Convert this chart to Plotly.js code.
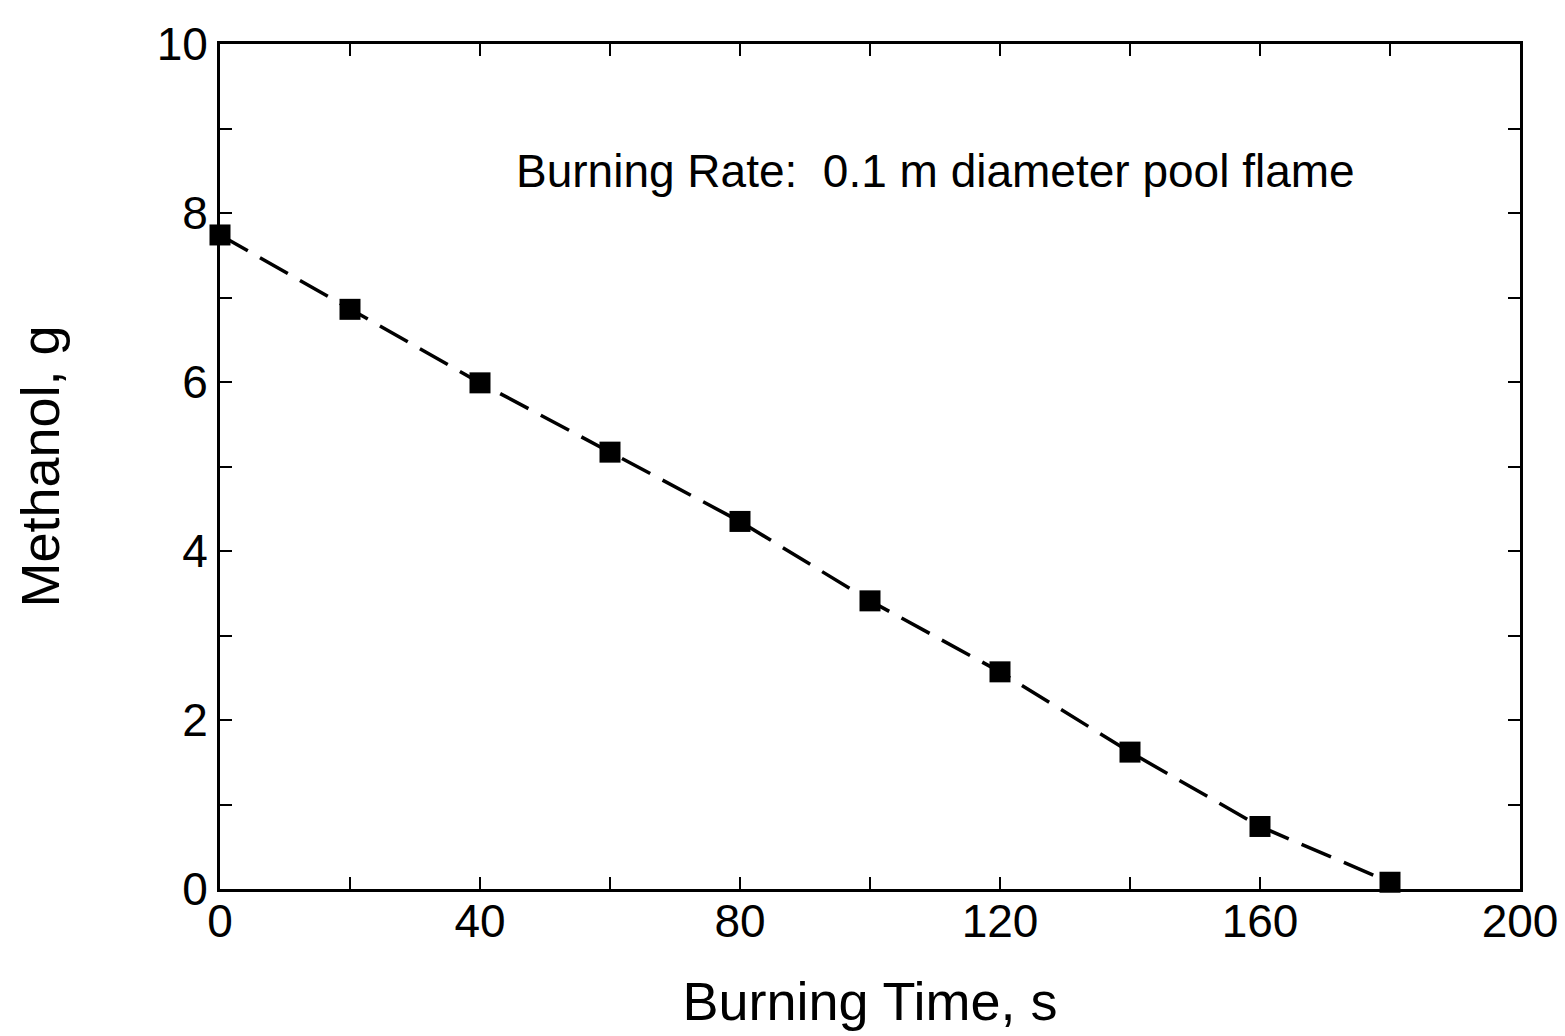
<!DOCTYPE html>
<html>
<head>
<meta charset="utf-8">
<script src="https://cdn.plot.ly/plotly-3.0.1.min.js"></script>
<style>html,body{margin:0;padding:0;background:#fff;}#chart{width:1565px;height:1036px;}</style>
</head>
<body>
<div id="chart"></div>
<script>
// Data
const burningTime = [0, 20, 40, 60, 80, 100, 120, 140, 160, 180];
const methanolMass = [7.74, 6.86, 5.99, 5.17, 4.35, 3.41, 2.57, 1.62, 0.74, 0.08];

const xTickVals = [0, 20, 40, 60, 80, 100, 120, 140, 160, 180, 200];
const xTickText = ['0', '', '40', '', '80', '', '120', '', '160', '', '200'];
const yTickVals = [0, 1, 2, 3, 4, 5, 6, 7, 8, 9, 10];
const yTickText = ['0', '', '2', '', '4', '', '6', '', '8', '', '10'];

const annotationText = 'Burning Rate:  0.1 m diameter pool flame';

const font = 'Liberation Sans, Arial, Helvetica, sans-serif';

const trace = {
  x: burningTime,
  y: methanolMass,
  mode: 'lines+markers',
  type: 'scatter',
  line: {color: '#000', width: 3.5, dash: '32px,14px'},
  marker: {symbol: 'square', size: 21, color: '#000'},
  cliponaxis: false,
  showlegend: false
};

const axisCommon = {
  showline: true,
  linecolor: '#000',
  linewidth: 3,
  mirror: 'ticks',
  ticks: 'inside',
  ticklen: 12,
  tickwidth: 2,
  tickcolor: '#000',
  showgrid: false,
  zeroline: false,
  tickmode: 'array',
  ticklabeloverflow: 'allow',
  tickfont: {family: font, size: 46, color: '#000'}
};

const layout = {
  width: 1565,
  height: 1036,
  paper_bgcolor: '#fff',
  plot_bgcolor: '#fff',
  margin: {l: 220, r: 45, t: 44, b: 147},
  xaxis: Object.assign({}, axisCommon, {
    range: [0, 200],
    tickvals: xTickVals,
    ticktext: xTickText,
    ticklabelstandoff: -10,
    title: {text: 'Burning Time, s', font: {family: font, size: 54, color: '#000'}, standoff: 36}
  }),
  yaxis: Object.assign({}, axisCommon, {
    range: [0, 10],
    tickvals: yTickVals,
    ticktext: yTickText,
    title: {text: 'Methanol, g', font: {family: font, size: 54, color: '#000'}, standoff: 80}
  }),
  annotations: [{
    x: 110, y: 8.5, xref: 'x', yref: 'y',
    text: annotationText,
    showarrow: false,
    font: {family: font, size: 46, color: '#000'}
  }]
};

Plotly.newPlot('chart', [trace], layout, {displayModeBar: false, staticPlot: true});
</script>
</body>
</html>
